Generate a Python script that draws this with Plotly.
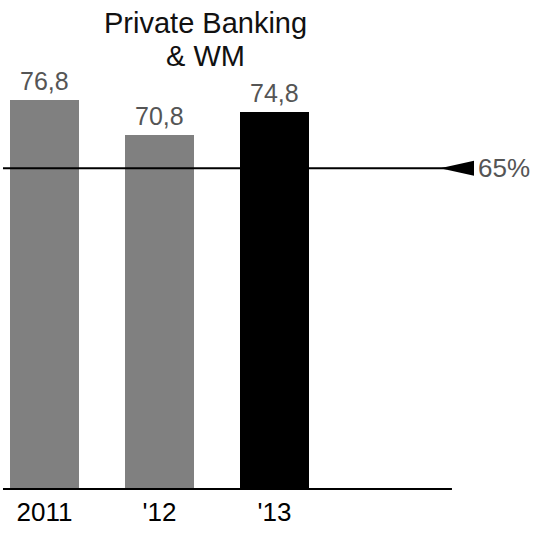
import plotly.graph_objects as go

categories = ["2011", "'12", "'13"]
values = [76.8, 70.8, 74.8]
bar_colors = ["#808080", "#808080", "#000000"]
target = 65
target_label = "65%"
title_lines = ["Private Banking", "& WM"]

FONT = "Liberation Sans, Arial, sans-serif"

x_idx = list(range(len(categories)))
x0, x1 = -0.387, 4.3
y0, y1 = 9.5, 94.1

fig = go.Figure()
fig.add_trace(go.Bar(
    x=x_idx, y=values, width=0.6, base=0,
    marker=dict(color=bar_colors, line=dict(width=0)),
    hoverinfo="skip",
))
for i, v in zip(x_idx, values):
    fig.add_annotation(x=i, y=v, xref="x", yref="y", text=f"{v:.1f}".replace(".", ","),
                       showarrow=False, xanchor="center", yanchor="bottom", yshift=3,
                       font=dict(family=FONT, size=25, color="#555555"))

# baseline
fig.add_shape(type="line", xref="x", yref="paper", x0=-0.361, x1=3.543, y0=0, y1=0,
              line=dict(color="black", width=2), layer="above")
# target line
fig.add_shape(type="line", xref="x", yref="y", x0=-0.361, x1=3.5, y0=target, y1=target,
              line=dict(color="black", width=2), layer="above")
# arrow head (pointing left)
ax_tip, ax_base, half = 3.44, 3.735, 1.3
fig.add_shape(type="path", xref="x", yref="y",
              path=f"M {ax_tip} {target} L {ax_base} {target + half} L {ax_base} {target - half} Z",
              fillcolor="black", line=dict(color="black", width=0), layer="above")
fig.add_annotation(x=3.755, y=target, xref="x", yref="y", text=target_label, showarrow=False,
                   xanchor="left", yanchor="middle",
                   font=dict(family=FONT, size=26, color="#555555"))

for k, line in enumerate(title_lines):
    fig.add_annotation(x=1.396, y=1.0, xref="x", yref="paper", text=line, showarrow=False,
                       xanchor="center", yanchor="top", yshift=-5 - 33 * k,
                       font=dict(family=FONT, size=29, color="#111111"))

fig.update_layout(
    width=539, height=533,
    margin=dict(l=0, r=0, t=0, b=44, pad=0),
    plot_bgcolor="white", paper_bgcolor="white",
    showlegend=False, bargap=0,
    xaxis=dict(range=[x0, x1], tickmode="array", tickvals=x_idx, ticktext=categories,
               showline=False, showgrid=False, zeroline=False, ticklabelstandoff=5,
               ticks="", tickfont=dict(family=FONT, size=26, color="black")),
    yaxis=dict(range=[y0, y1], visible=False, showgrid=False, zeroline=False),
)

fig.write_html("out.html", config={"displayModeBar": False},
               post_script="document.body.style.margin='0';")
